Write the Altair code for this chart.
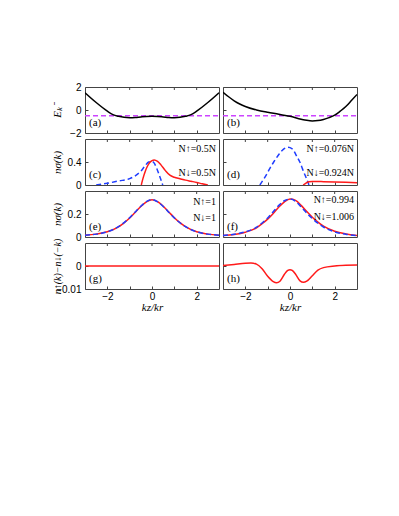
import altair as alt
import pandas as pd

# ---------------- data ----------------
X_TICKS = [-2, -1, 0, 1, 2]

# (a)
xa = [-3, -2.5, -2, -1.75, -1.5, -1.25, -1, -0.75, -0.5, -0.25, 0, 0.25, 0.5, 0.75, 1, 1.25, 1.5, 1.75, 2, 2.5, 3]
Ea = [1.5, 0.65, -0.1, -0.4, -0.55, -0.64, -0.67, -0.65, -0.6, -0.56, -0.55, -0.56, -0.6, -0.65, -0.67, -0.64, -0.55, -0.4, -0.1, 0.65, 1.5]
# (b)
xb = [-3, -2.75, -2.5, -2.25, -2, -1.5, -1, -0.5, 0, 0.5, 0.75, 1, 1.25, 1.5, 1.75, 2, 2.25, 2.5, 2.75, 3]
Eb = [1.55, 1.15, 0.8, 0.52, 0.3, 0.0, -0.2, -0.36, -0.55, -0.8, -0.9, -0.95, -0.92, -0.82, -0.66, -0.45, -0.1, 0.3, 0.82, 1.35]
mu_x = [-3, 3]
mu_y = [-0.5, -0.5]

# (c)
c_up_x = [-2.5, -2, -1.5, -1, -0.75, -0.5, -0.3, -0.15, 0, 0.1, 0.2, 0.3, 0.4, 0.48]
c_up_y = [0, 0.03, 0.07, 0.11, 0.16, 0.24, 0.34, 0.4, 0.41, 0.38, 0.3, 0.2, 0.09, 0]
c_dn_x = [-0.48, -0.4, -0.3, -0.2, -0.1, 0, 0.1, 0.25, 0.4, 0.6, 0.8, 1.0, 1.25, 1.5, 1.75, 2.0, 2.25, 2.5]
c_dn_y = [0, 0.12, 0.24, 0.33, 0.39, 0.425, 0.435, 0.41, 0.35, 0.25, 0.17, 0.135, 0.11, 0.085, 0.065, 0.045, 0.02, 0]
# (d)
d_up_x = [-1.35, -1.1, -0.9, -0.73, -0.5, -0.3, -0.1, 0.1, 0.3, 0.44, 0.6, 0.75, 0.85]
d_up_y = [0, 0.15, 0.29, 0.4, 0.53, 0.62, 0.655, 0.63, 0.5, 0.4, 0.24, 0.1, 0]
d_dn_x = [0.59, 0.7, 0.85, 1.0, 1.5, 2.0, 2.5, 3.0]
d_dn_y = [0, 0.03, 0.055, 0.062, 0.058, 0.052, 0.046, 0.04]

# (e), (f)
ef_x = [-3, -2.5, -2, -1.5, -1.25, -1, -0.75, -0.5, -0.25, 0, 0.25, 0.5, 0.75, 1, 1.25, 1.5, 2, 2.5, 3]
e_up_y = [0.015, 0.025, 0.045, 0.09, 0.125, 0.168, 0.218, 0.268, 0.308, 0.325, 0.306, 0.266, 0.216, 0.166, 0.124, 0.09, 0.045, 0.025, 0.015]
e_dn_y = [0.015, 0.025, 0.045, 0.088, 0.123, 0.165, 0.215, 0.265, 0.305, 0.325, 0.308, 0.268, 0.218, 0.168, 0.125, 0.09, 0.045, 0.025, 0.015]
f_up_y = [0.012, 0.024, 0.045, 0.085, 0.122, 0.165, 0.22, 0.275, 0.315, 0.33, 0.31, 0.262, 0.208, 0.16, 0.12, 0.087, 0.045, 0.024, 0.012]
f_dn_y = [0.012, 0.022, 0.042, 0.08, 0.115, 0.155, 0.205, 0.26, 0.305, 0.33, 0.318, 0.275, 0.222, 0.172, 0.13, 0.095, 0.05, 0.027, 0.014]

# (g), (h)
g_x = [-3, 3]
g_y = [0, 0]
h_x = [-3, -2.5, -2, -1.75, -1.5, -1.25, -1, -0.75, -0.6, -0.45, -0.25, -0.1, 0, 0.1, 0.25, 0.45, 0.6, 0.75, 1, 1.25, 1.5, 2, 2.5, 3]
h_y = [0.0002, 0.0007, 0.0012, 0.0013, 0.0008, -0.0012, -0.0045, -0.0068, -0.0073, -0.0066, -0.0036, -0.0019, -0.0016,
       -0.0019, -0.0036, -0.0065, -0.0071, -0.0066, -0.0042, -0.0018, -0.0007, 0.0, 0.0003, 0.0004]

PANEL_LABELS = ["(a)", "(b)", "(c)", "(d)", "(e)", "(f)", "(g)", "(h)"]
NOTES_C = ["N↑=0.5N", "N↓=0.5N"]
NOTES_D = ["N↑=0.076N", "N↓=0.924N"]
NOTES_E = ["N↑=1", "N↓=1"]
NOTES_F = ["N↑=0.994", "N↓=1.006"]

Y_TITLES = ["Eₖ⁻", "nσ(k)", "nσ(k)", "n↑(k)−n↓(−k)"]
X_TITLE = "kz/kr"

ROW_DOMAINS = [[-2, 2], [0, 0.8], [0, 0.4], [-0.01, 0.01]]
ROW_TICKS = [[-2, 0, 2], [0, 0.4], [0, 0.2], [-0.01, 0]]

W, H = 134, 46
RED = "#ff1a1a"
BLUE = "#1f3dff"
MAGENTA = "#cc44ff"
FRAME = "#444444"


def panel(series, row, left, bottom, label, notes=None, note_y=(10, 34)):
    if bottom:
        xaxis = alt.Axis(values=X_TICKS, offset=-3, tickSize=3, labels=True,
                         labelExpr="datum.value % 2 == 0 ? datum.label : ''",
                         labelPadding=2, title=X_TITLE, titlePadding=0)
    else:
        xaxis = alt.Axis(values=X_TICKS, offset=-3, tickSize=3, labels=False, title=None,
                         minExtent=0, maxExtent=0)
    if left:
        yaxis = alt.Axis(values=ROW_TICKS[row], offset=-3, tickSize=3, labelPadding=4, format="~g",
                         title=Y_TITLES[row], titlePadding=2, minExtent=24, maxExtent=24,
                         titleFontSize=10 if row == 3 else 11)
    else:
        yaxis = alt.Axis(values=ROW_TICKS[row], offset=-3, tickSize=3, labels=False,
                         title=None, minExtent=0, maxExtent=0)
    xs = alt.Scale(domain=[-3, 3], nice=False, zero=False)
    ys = alt.Scale(domain=ROW_DOMAINS[row], nice=False, zero=False)
    layers = []
    for xv, yv, color, dash in series:
        df = pd.DataFrame({"x": xv, "y": yv})
        kw = dict(color=color, strokeWidth=1.5, clip=True, interpolate="monotone")
        if dash:
            kw["strokeDash"] = dash
        layers.append(alt.Chart(df).mark_line(**kw).encode(
            x=alt.X("x:Q", scale=xs, axis=xaxis),
            y=alt.Y("y:Q", scale=ys, axis=yaxis)))
    # inner ticks on the top edge
    layers.append(alt.Chart(pd.DataFrame({"x": X_TICKS})).mark_rule(color=FRAME, strokeWidth=1).encode(
        x=alt.X("x:Q", scale=xs, axis=xaxis), y=alt.value(0), y2=alt.value(3)))
    one = pd.DataFrame({"a": [0]})
    layers.append(alt.Chart(one).mark_text(text=label, x=4, y=36, align="left", baseline="middle",
                                           font="Liberation Serif", fontSize=11, color="black"))
    if notes:
        for t, yy in zip(notes, note_y):
            layers.append(alt.Chart(one).mark_text(text=t, x=W - 3, y=yy, align="right", baseline="middle",
                                                   font="Liberation Serif", fontSize=10, color="black"))
    return alt.layer(*layers).properties(width=W, height=H)


panels = [
    panel([(mu_x, mu_y, MAGENTA, [5, 3]), (xa, Ea, "black", None)], 0, True, False, PANEL_LABELS[0]),
    panel([(mu_x, mu_y, MAGENTA, [5, 3]), (xb, Eb, "black", None)], 0, False, False, PANEL_LABELS[1]),
    panel([(c_up_x, c_up_y, BLUE, [5, 3]), (c_dn_x, c_dn_y, RED, None)], 1, True, False, PANEL_LABELS[2], NOTES_C, (10, 34)),
    panel([(d_up_x, d_up_y, BLUE, [5, 3]), (d_dn_x, d_dn_y, RED, None)], 1, False, False, PANEL_LABELS[3], NOTES_D, (10, 34)),
    panel([(ef_x, e_dn_y, RED, None), (ef_x, e_up_y, BLUE, [5, 3])], 2, True, False, PANEL_LABELS[4], NOTES_E, (11, 27)),
    panel([(ef_x, f_dn_y, RED, None), (ef_x, f_up_y, BLUE, [5, 3])], 2, False, False, PANEL_LABELS[5], NOTES_F, (9, 26)),
    panel([(g_x, g_y, RED, None)], 3, True, True, PANEL_LABELS[6]),
    panel([(h_x, h_y, RED, None)], 3, False, True, PANEL_LABELS[7]),
]

chart = alt.concat(*panels, columns=2, spacing={"row": 6, "column": 4}, bounds="flush").properties(
    padding={"left": 42, "top": 73, "right": 0, "bottom": 0},
    background="white"
).configure_view(
    stroke=FRAME, strokeWidth=1
).configure_axis(
    domain=False, grid=False, tickColor=FRAME, tickWidth=1,
    labelFont="Liberation Sans", labelFontSize=10, labelColor="black",
    titleFont="Liberation Serif", titleFontStyle="italic", titleFontWeight="normal",
    titleFontSize=11, titleColor="black"
)

chart.save("out.html", embed_options={"renderer": "svg", "actions": False})
